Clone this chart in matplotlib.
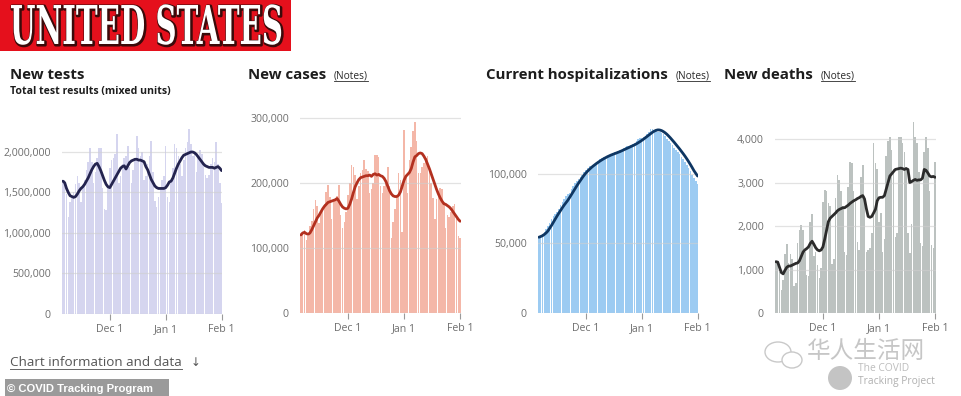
import numpy as np
import pandas as pd
import matplotlib
matplotlib.use("Agg")
import matplotlib.pyplot as plt
from matplotlib.ticker import FuncFormatter, FixedLocator
from matplotlib.patheffects import AbstractPathEffect
from matplotlib.transforms import Affine2D
from matplotlib.lines import Line2D
from matplotlib.patches import Rectangle, Ellipse

# ---------------- data ----------------
dates = pd.date_range("2020-11-05", "2021-02-01", freq="D")
tick_dates = pd.to_datetime(["2020-12-01", "2021-01-01", "2021-02-01"])
tick_labels = ["Dec 1", "Jan 1", "Feb 1"]

# New tests (millions)
tests_m = [1.62, 1.66, 1.48, 1.20, 1.38, 1.46, 1.50,
           1.60, 1.70, 1.62, 1.38, 1.55, 1.65, 1.78,
           1.88, 2.05, 1.88, 1.62, 1.75, 1.92, 2.05,
           2.05, 1.55, 1.30, 1.28, 1.55, 1.80, 1.90,
           1.92, 1.98, 2.22, 1.62, 1.70, 1.85, 1.92,
           1.95, 2.08, 1.82, 1.62, 1.78, 1.90, 2.20,
           2.05, 1.95, 2.00, 1.65, 1.70, 1.85, 1.95,
           2.13, 1.75, 1.40, 1.32, 1.45, 1.55, 1.65,
           1.70, 2.07, 1.45, 1.38, 1.65, 1.80, 2.10,
           2.05, 1.95, 1.85, 1.70, 1.90, 2.05, 2.12,
           2.28, 2.10, 1.95, 2.00, 1.75, 1.92, 2.02,
           1.98, 1.88, 1.72, 1.68, 1.72, 1.85, 1.92,
           1.88, 2.12, 1.85, 1.62, 1.37]
tests_avg_m = [1.64, 1.62, 1.55, 1.50, 1.46, 1.45, 1.44, 1.45, 1.48, 1.52,
               1.55, 1.57, 1.60, 1.64, 1.68, 1.73, 1.78, 1.82, 1.85, 1.86,
               1.82, 1.77, 1.71, 1.65, 1.60, 1.57, 1.56, 1.60, 1.64, 1.68,
               1.72, 1.76, 1.80, 1.82, 1.83, 1.79, 1.83, 1.87, 1.89, 1.90,
               1.91, 1.91, 1.90, 1.90, 1.89, 1.88, 1.82, 1.78, 1.72, 1.66,
               1.62, 1.58, 1.56, 1.55, 1.55, 1.55, 1.55, 1.56, 1.59, 1.63,
               1.64, 1.68, 1.74, 1.80, 1.85, 1.89, 1.93, 1.96, 1.97, 1.98,
               1.99, 2.00, 2.00, 1.99, 1.97, 1.94, 1.91, 1.88, 1.85, 1.83,
               1.82, 1.81, 1.81, 1.81, 1.80, 1.81, 1.82, 1.80, 1.77]

# New cases (thousands)
cases_k = [120, 125, 127, 112, 118, 133, 142,
           160, 174, 165, 138, 155, 160, 168,
           186, 196, 178, 145, 170, 172, 180,
           196, 150, 130, 140, 155, 182, 200,
           228, 225, 212, 175, 195, 215, 220,
           235, 222, 218, 185, 190, 200, 243,
           243, 240, 195, 185, 195, 198, 225,
           195, 115, 140, 160, 178, 215, 205,
           125, 281, 210, 185, 235, 255, 280,
           294, 265, 215, 215, 225, 230, 238,
           242, 225, 200, 176, 145, 175, 185,
           192, 190, 170, 130, 150, 147, 155,
           165, 168, 145, 118, 115]
cases_avg_k = [120, 123, 124, 122, 121, 123, 128, 134, 140, 146,
               150, 155, 160, 164, 167, 170, 171, 172, 173, 174,
               176, 172, 167, 163, 161, 160, 161, 167, 175, 185,
               194, 200, 205, 208, 209, 210, 211, 211, 212, 210,
               213, 214, 212, 213, 211, 210, 207, 202, 195, 188,
               183, 180, 179, 179, 181, 186, 195, 204, 210, 213,
               216, 222, 232, 240, 242, 245, 246, 245, 241, 236,
               229, 222, 214, 206, 198, 190, 183, 177, 172, 168,
               167, 165, 163, 160, 156, 152, 148, 144, 141]

# Current hospitalizations (thousands)
hosp_k = [54.5, 55.5, 57.0, 58.0, 60.5, 62.5, 65.0, 67.5, 69.5, 71.5,
          72.5, 75.0, 78.0, 80.0, 82.0, 84.0, 85.5, 86.5, 89.0, 91.5,
          93.5, 95.0, 96.5, 97.5, 99.0, 101.5, 103.0, 104.5, 105.5, 106.0,
          106.5, 107.5, 108.5, 109.5, 110.5, 111.5, 112.0, 112.5, 113.0, 113.8,
          114.5, 115.0, 115.5, 116.0, 116.5, 117.0, 117.5, 118.5, 119.5, 120.0,
          120.0, 120.5, 121.5, 122.5, 124.0, 125.0, 125.5, 125.5, 126.5, 127.5,
          129.0, 130.5, 132.0, 132.5, 131.5, 131.0, 130.0, 130.0, 129.5, 129.0,
          127.5, 125.0, 123.5, 122.5, 121.0, 119.0, 117.5, 116.0, 114.0, 112.5,
          110.5, 108.5, 106.5, 104.5, 102.0, 99.5, 97.0, 95.0, 93.0]
hosp_avg_k = [54.5, 55.0, 55.6, 56.5, 57.6, 59.0, 61.0, 63.0, 65.2, 67.4,
              69.6, 71.7, 73.7, 75.7, 77.6, 79.3, 81.0, 83.0, 85.1, 87.2,
              89.3, 91.4, 93.4, 95.3, 97.2, 99.0, 100.6, 102.0, 103.3, 104.5,
              105.6, 106.6, 107.6, 108.5, 109.4, 110.2, 111.0, 111.7, 112.4, 113.0,
              113.6, 114.1, 114.6, 115.1, 115.6, 116.1, 116.7, 117.3, 117.9, 118.5,
              119.1, 119.7, 120.3, 120.9, 121.6, 122.4, 123.2, 124.1, 125.0, 126.0,
              127.0, 128.0, 129.0, 130.0, 130.8, 131.4, 131.7, 131.6, 131.2, 130.5,
              129.6, 128.5, 127.2, 125.8, 124.3, 122.8, 121.2, 119.6, 118.0, 116.3,
              114.6, 112.8, 110.9, 108.9, 106.8, 104.6, 102.3, 100.4, 98.5]

# New deaths (thousands)
deaths_k = [1.18, 1.15, 0.95, 0.52, 0.75, 1.35, 1.58,
            1.15, 1.35, 1.25, 0.62, 0.70, 1.60, 1.90,
            2.02, 1.90, 1.40, 0.88, 0.85, 2.10, 2.28,
            1.30, 1.40, 1.10, 0.80, 1.03, 2.55, 2.82,
            2.80, 2.52, 2.45, 1.12, 1.25, 2.65, 3.17,
            3.05, 2.80, 2.45, 1.40, 1.33, 2.90, 3.47,
            3.44, 2.80, 2.55, 1.64, 1.45, 3.13, 3.40,
            2.70, 1.40, 1.45, 1.50, 1.85, 3.90, 3.45,
            3.30, 2.10, 2.30, 1.40, 1.70, 3.60, 3.95,
            4.05, 3.75, 3.30, 1.75, 1.85, 4.05, 4.05,
            3.90, 3.70, 3.35, 1.85, 1.38, 2.05, 4.40,
            4.05, 3.90, 3.25, 1.60, 1.55, 3.70, 4.05,
            3.80, 2.80, 1.56, 1.50, 3.48]
deaths_avg_k = [1.18, 1.17, 1.05, 0.93, 0.90, 0.98, 1.05, 1.08, 1.08, 1.10,
                1.12, 1.14, 1.15, 1.20, 1.30, 1.40, 1.45, 1.48, 1.52, 1.60,
                1.65, 1.58, 1.50, 1.45, 1.43, 1.45, 1.52, 1.70, 1.90, 2.10,
                2.18, 2.22, 2.26, 2.30, 2.35, 2.38, 2.40, 2.42, 2.42, 2.45,
                2.48, 2.52, 2.55, 2.58, 2.60, 2.63, 2.65, 2.68, 2.70, 2.62,
                2.40, 2.22, 2.20, 2.22, 2.30, 2.38, 2.58, 2.65, 2.66, 2.66,
                2.70, 2.85, 3.00, 3.15, 3.20, 3.25, 3.30, 3.31, 3.32, 3.33,
                3.32, 3.30, 3.32, 3.30, 3.00, 3.02, 3.05, 3.07, 3.05, 3.06,
                3.06, 3.10, 3.30, 3.28, 3.22, 3.15, 3.13, 3.14, 3.12]

titles = ["New tests", "New cases", "Current hospitalizations", "New deaths"]
subtitle = "Total test results (mixed units)"

# ---------------- figure ----------------
W, H = 962, 396
fig = plt.figure(figsize=(W / 100, H / 100), dpi=100)
fig.patch.set_facecolor("white")
FONT = ["Open Sans", "DejaVu Sans"]


def fx(x):
    return x / W


def fy(y):
    return 1 - y / H


def ax_at(l, t, r, b):
    return fig.add_axes([fx(l), fy(b), (r - l) / W, (b - t) / H])


def comma(v, pos=None):
    return f"{int(round(v)):,}"


panels = [
    ((62, 120, 222.5, 314), tests_m, tests_avg_m, 1e6, 2.395e6,
     [0, 500000, 1000000, 1500000, 2000000], "#d5d5ef", "#24244f"),
    ((300, 110, 461, 313), cases_k, cases_avg_k, 1e3, 312e3,
     [0, 100000, 200000, 300000], "#f4b7a8", "#b3301f"),
    ((538, 120, 698.5, 313), hosp_k, hosp_avg_k, 1e3, 138.8e3,
     [0, 50000, 100000], "#9ccbf2", "#0e3662"),
    ((775, 118, 936, 313), deaths_k, deaths_avg_k, 1e3, 4483,
     [0, 1000, 2000, 3000, 4000], "#bcc2c0", "#2b2b2b"),
]

x0 = dates[0] - pd.Timedelta(hours=12)
x1 = dates[-1] + pd.Timedelta(hours=12)

for (box, bars, line, scale, ymax, yticks, bc, lc) in panels:
    ax = ax_at(*box)
    vals = np.asarray(bars) * scale
    avg = np.asarray(line) * scale
    ax.bar(dates, vals, width=0.86, color=bc, linewidth=0, zorder=1)
    ax.plot(dates, avg, color=lc, lw=2.0, solid_joinstyle="round",
            solid_capstyle="round", zorder=3)
    ax.set_xlim(x0, x1)
    ax.set_ylim(0, ymax)
    ax.yaxis.set_major_locator(FixedLocator(yticks))
    ax.yaxis.set_major_formatter(FuncFormatter(comma))
    ax.set_xticks(tick_dates)
    ax.set_xticklabels(tick_labels)
    for s in ax.spines.values():
        s.set_visible(False)
    ax.grid(axis="y", color="#cfcfcf", lw=0.9, alpha=0.6, zorder=2)
    ax.set_axisbelow(False)
    ax.tick_params(axis="y", length=0, pad=8, labelsize=7.6, labelcolor="#6e6e6e")
    ax.tick_params(axis="x", length=4, width=0.8, color="#9a9a9a", pad=3,
                   labelsize=7.6, labelcolor="#6e6e6e")
    for t in ax.get_xticklabels() + ax.get_yticklabels():
        t.set_fontfamily(FONT)
    ax.set_facecolor("none")

# ---------------- titles ----------------
title_x = [10, 248, 486, 724]
notes_x = [None, 334, 676, 821]
notes = []
for tx, nx, tt in zip(title_x, notes_x, titles):
    fig.text(fx(tx), fy(79), tt, fontsize=10.8, fontweight="bold",
             color="#1d1d1d", family=FONT, va="baseline", ha="left")
    if nx is not None:
        n = fig.text(fx(nx), fy(78), "(Notes)", fontsize=7.3, color="#2a2a2a",
                     family=FONT, va="baseline", ha="left")
        notes.append((n, 78))
fig.text(fx(10), fy(94), subtitle, fontsize=7.6, fontweight="bold",
         color="#1d1d1d", family=FONT, va="baseline", ha="left")

# ---------------- bottom texts ----------------
info = fig.text(fx(10), fy(366), "Chart information and data", fontsize=9.7,
                color="#555555", family=FONT, va="baseline", ha="left")
fig.text(fx(191), fy(366), "\u2193", fontsize=8.5, color="#555555",
         family=["DejaVu Sans"], va="baseline", ha="left")

fig.patches.append(Rectangle((fx(5), fy(396)), (169 - 5) / W, (396 - 379) / H,
                             transform=fig.transFigure, facecolor="#9a9a9a",
                             edgecolor="none", zorder=5))
fig.text(fx(7), fy(392), "\u00a9 COVID Tracking Program", fontsize=8.1,
         fontweight="bold", color="white", family=["Liberation Sans", "DejaVu Sans"],
         va="baseline", ha="left", zorder=6)

# watermark
fig.patches.append(Ellipse((fx(778), fy(352)), 26 / W, 20 / H, transform=fig.transFigure,
                           facecolor="none", edgecolor="#c9c9c9", lw=1.0))
fig.patches.append(Ellipse((fx(792), fy(360)), 20 / W, 16 / H, transform=fig.transFigure,
                           facecolor="white", edgecolor="#c9c9c9", lw=1.0))
fig.text(fx(866), fy(352), "华人生活网", fontsize=17, color="#c6c6c6",
         family=["Noto Sans CJK SC", "DejaVu Sans"], va="center", ha="center")
fig.patches.append(Ellipse((fx(840), fy(378)), 24 / W, 24 / H, transform=fig.transFigure,
                           facecolor="#c4c4c4", edgecolor="none"))
fig.text(fx(858), fy(371), "The COVID", fontsize=7.4, color="#bdbdbd",
         family=FONT, va="baseline", ha="left")
fig.text(fx(858), fy(384), "Tracking Project", fontsize=7.4, color="#b0b0b0",
         family=FONT, va="baseline", ha="left")

# ---------------- banner ----------------


class Squeeze(AbstractPathEffect):
    def __init__(self, x0, sx=1.0):
        super().__init__()
        self.x0 = x0
        self.sx = sx

    def draw_path(self, renderer, gc, tpath, affine, rgbFace=None):
        sq = (Affine2D().translate(-self.x0, 0).scale(self.sx, 1.0)
              .translate(self.x0, 0))
        aff = affine + sq
        g = renderer.new_gc()
        g.copy_properties(gc)
        g.set_linewidth(2.2)
        g.set_foreground("#3b0a0a")
        g.set_joinstyle("round")
        renderer.draw_path(g, tpath, aff + Affine2D().translate(1.0, -1.0), (0.23, 0.04, 0.04))
        g.restore()
        renderer.draw_path(gc, tpath, aff, rgbFace)


fig.patches.append(Rectangle((0, fy(51)), 291 / W, 51 / H, transform=fig.transFigure,
                             facecolor="#e5101c", edgecolor="none", zorder=1))
squeeze = Squeeze(10)
banner = fig.text(fx(10), fy(44), "UNITED STATES", fontsize=38.5, fontweight="bold",
                  family=["DejaVu Serif"], color="white", va="baseline", ha="left",
                  zorder=3)
banner.set_path_effects([squeeze])

# ---------------- measure & underline ----------------
fig.canvas.draw()
r = fig.canvas.get_renderer()
bw = banner.get_window_extent(r).width
squeeze.sx = (283 - 10) / bw

for n, base in notes:
    bb = n.get_window_extent(r)
    fig.add_artist(Line2D([bb.x0 / W + 0.5 / W, bb.x1 / W], [fy(base + 2.5)] * 2,
                          transform=fig.transFigure, color="#2a2a2a", lw=0.6))
bb = info.get_window_extent(r)
fig.add_artist(Line2D([bb.x0 / W, bb.x1 / W], [fy(368.5)] * 2,
                      transform=fig.transFigure, color="#666666", lw=0.7))

fig.savefig("out.png", dpi=100, facecolor="white")
